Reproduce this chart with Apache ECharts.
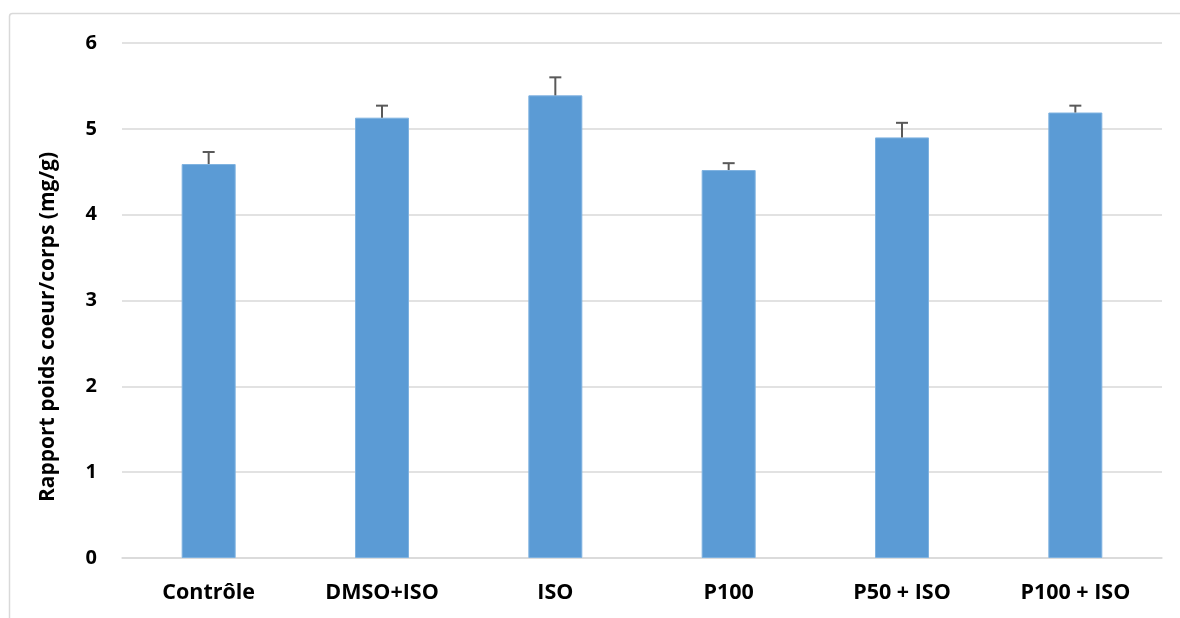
<!DOCTYPE html>
<html>
<head>
<meta charset="utf-8">
<script src="https://cdn.jsdelivr.net/npm/echarts@6/dist/echarts.min.js"></script>
<style>
html,body{margin:0;padding:0;background:#fff;}
#chart{width:1180px;height:618px;}
</style>
</head>
<body>
<div id="chart"></div>
<script>
const categories = ['Contrôle', 'DMSO+ISO', 'ISO', 'P100', 'P50 + ISO', 'P100 + ISO'];
const means = [4.59, 5.13, 5.39, 4.52, 4.90, 5.19];
const errors = [0.14, 0.14, 0.21, 0.08, 0.17, 0.08];
const yTicks = [0, 1, 2, 3, 4, 5, 6];
const yTitle = 'Rapport poids coeur/corps (mg/g)';

const FONT = '"Open Sans", sans-serif';
const chart = echarts.init(document.getElementById('chart'), null, {renderer: 'canvas'});

const errData = means.map((m, i) => [i, m, m + errors[i]]);

chart.setOption({
  animation: false,
  backgroundColor: '#fff',
  graphic: [{
    type: 'rect',
    shape: {x: 9.5, y: 13.5, width: 1300, height: 700, r: 3},
    style: {fill: 'none', stroke: '#d9d9d9', lineWidth: 1.5},
    silent: true, z: -1
  }, {
    type: 'text',
    x: 48, y: 327,
    rotation: Math.PI / 2,
    style: {
      text: yTitle, fill: '#000', fontFamily: FONT, fontWeight: 'bold', fontSize: 21,
      align: 'center', verticalAlign: 'middle'
    },
    silent: true
  }],
  grid: {left: 122, right: 18, top: 43, bottom: 60},
  xAxis: {
    type: 'category',
    data: categories,
    axisLine: {show: true, lineStyle: {color: '#d9d9d9', width: 1.5}},
    axisTick: {show: false},
    axisLabel: {color: '#000', fontFamily: FONT, fontWeight: 'bold', fontSize: 21.5, margin: 24}
  },
  yAxis: {
    type: 'value',
    min: yTicks[0],
    max: yTicks[yTicks.length - 1],
    interval: 1,
    axisLine: {show: false},
    axisTick: {show: false},
    splitLine: {lineStyle: {color: '#d9d9d9', width: 1.5}},
    axisLabel: {color: '#000', fontFamily: FONT, fontWeight: 'bold', fontSize: 20, margin: 25}
  },
  series: [{
    type: 'bar',
    data: means,
    barWidth: 54,
    itemStyle: {color: '#5b9bd5', borderColor: '#7fb2e0', borderWidth: 1}
  }, {
    type: 'custom',
    data: errData,
    z: 10,
    renderItem: function (params, api) {
      const x = api.value(0);
      const lo = api.coord([x, api.value(1)]);
      const hi = api.coord([x, api.value(2)]);
      const cap = 6;
      const st = {stroke: '#595959', lineWidth: 2, fill: 'none'};
      return {
        type: 'group',
        children: [
          {type: 'line', shape: {x1: lo[0], y1: lo[1], x2: hi[0], y2: hi[1]}, style: st},
          {type: 'line', shape: {x1: hi[0] - cap, y1: hi[1], x2: hi[0] + cap, y2: hi[1]}, style: st}
        ]
      };
    }
  }]
});
</script>
</body>
</html>
